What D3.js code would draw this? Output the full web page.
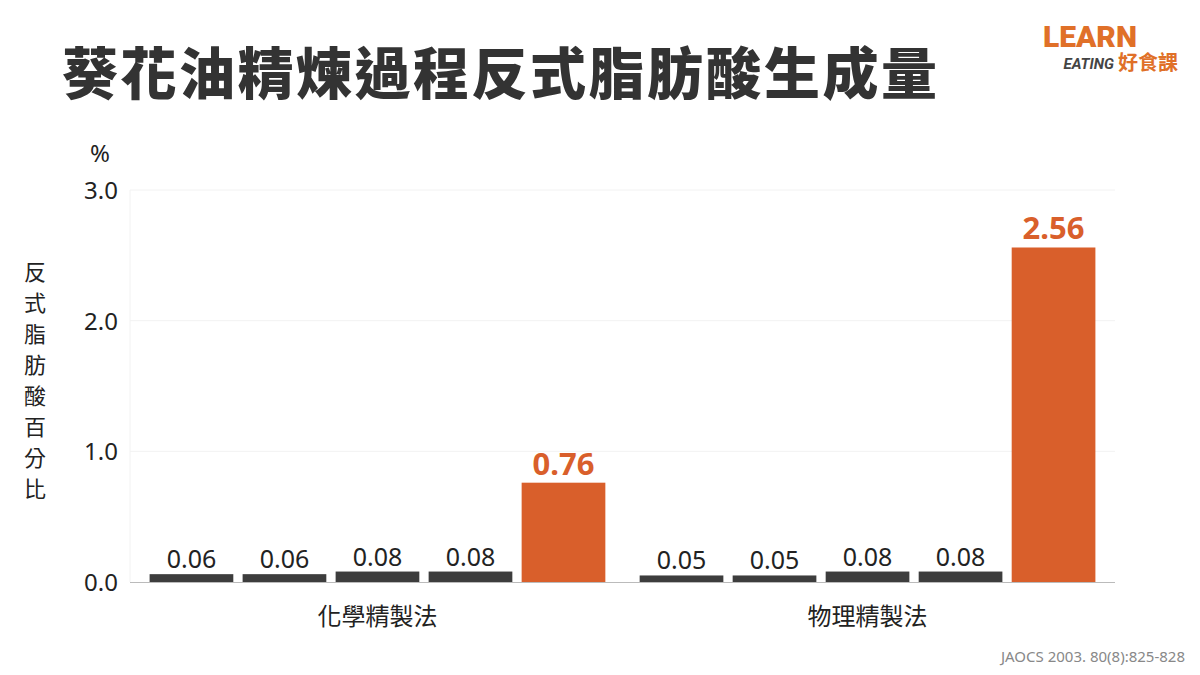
<!DOCTYPE html>
<html><head><meta charset="utf-8">
<script src="https://cdn.jsdelivr.net/npm/d3@7"></script>
<style>body{margin:0;background:#fff;font-family:"Noto Sans CJK TC","Noto Sans",sans-serif}</style>
</head><body><svg id="c" width="1200" height="675"></svg>
<script>
const groups = ['化學精製法', '物理精製法'];
const steps = ['s1', 's2', 's3', 's4', 's5'];
const chemValues = [0.06, 0.06, 0.08, 0.08, 0.76];
const physValues = [0.05, 0.05, 0.08, 0.08, 2.56];
const yTicks = [0, 1, 2, 3];
const highlight = [false, false, false, false, true];

const svg = d3.select('#c');
const y = d3.scaleLinear().domain([0, 3]).range([582, 190]);
const x0 = d3.scaleBand().domain(groups).range([130, 1115]).paddingInner(0.07).paddingOuter(0.04);
const x1 = d3.scaleBand().domain(steps).range([0, x0.bandwidth()]).paddingInner(0.1);

// title
svg.append('text').attr('x', 62).attr('y', 94).attr('font-size', 56).attr('font-weight', 900)
  .attr('fill', '#333').attr('letter-spacing', 2.5).text('葵花油精煉過程反式脂肪酸生成量');

// logo
svg.append('text').attr('x', 1137).attr('y', 47).attr('text-anchor', 'end').attr('font-family', 'Roboto')
  .attr('font-weight', 900).attr('font-size', 30).attr('fill', '#e07028').text('LEARN');
svg.append('text').attr('x', 1114).attr('y', 69).attr('text-anchor', 'end').attr('font-family', 'Roboto')
  .attr('font-style', 'italic').attr('font-weight', 700).attr('font-size', 15).attr('fill', '#444').text('EATING');
svg.append('text').attr('x', 1178).attr('y', 70).attr('text-anchor', 'end')
  .attr('font-weight', 700).attr('font-size', 20).attr('fill', '#e07028').text('好食課');

// grid
svg.append('g').selectAll('line').data(yTicks.slice(1)).join('line')
  .attr('x1', 130).attr('x2', 1115).attr('y1', d => y(d)).attr('y2', d => y(d))
  .attr('stroke', '#f2f2f2');
svg.append('line').attr('x1', 130).attr('x2', 130).attr('y1', 190).attr('y2', 582).attr('stroke', '#f2f2f2');

// y axis labels
svg.append('g').selectAll('text').data(yTicks).join('text')
  .attr('x', 118).attr('y', d => y(d) + 9).attr('text-anchor', 'end')
  .attr('font-family', 'Noto Sans').attr('font-size', 24).attr('fill', '#222').text(d => d.toFixed(1));
svg.append('text').attr('x', 100).attr('y', 162).attr('text-anchor', 'middle')
  .attr('font-family', 'Noto Sans').attr('font-size', 24).attr('fill', '#222').text('%');
svg.append('g').selectAll('text').data('反式脂肪酸百分比'.split('')).join('text')
  .attr('x', 35).attr('y', (d, i) => 280 + i * 31).attr('text-anchor', 'middle')
  .attr('font-size', 22).attr('fill', '#222').text(d => d);

// bars
const data = [chemValues, physValues];
groups.forEach((g, gi) => {
  const gx = x0(g);
  const gg = svg.append('g').attr('transform', `translate(${gx},0)`);
  gg.selectAll('rect').data(data[gi]).join('rect')
    .attr('x', (d, i) => x1(steps[i])).attr('width', x1.bandwidth())
    .attr('y', d => y(d)).attr('height', d => y(0) - y(d))
    .attr('fill', (d, i) => highlight[i] ? '#d95f2b' : '#3d3d3d');
  gg.selectAll('text').data(data[gi]).join('text')
    .attr('x', (d, i) => x1(steps[i]) + x1.bandwidth() / 2)
    .attr('y', (d, i) => y(d) - (highlight[i] ? 8 : 6))
    .attr('text-anchor', 'middle').attr('font-family', 'Noto Sans')
    .attr('font-size', (d, i) => highlight[i] ? 31 : 25)
    .attr('font-weight', (d, i) => highlight[i] ? 700 : 400)
    .attr('fill', (d, i) => highlight[i] ? '#d95f2b' : '#222')
    .text(d => d.toFixed(2));
  svg.append('text').attr('x', gx + x0.bandwidth() / 2).attr('y', 625).attr('text-anchor', 'middle')
    .attr('font-size', 24).attr('fill', '#222').text(g);
});

// x axis line
svg.append('line').attr('x1', 130).attr('x2', 1115).attr('y1', 582.5).attr('y2', 582.5).attr('stroke', '#bbb');

// source
svg.append('text').attr('x', 1185).attr('y', 662).attr('text-anchor', 'end').attr('font-family', 'Noto Sans')
  .attr('font-size', 15).attr('fill', '#888').text('JAOCS 2003. 80(8):825-828');
</script></body></html>
